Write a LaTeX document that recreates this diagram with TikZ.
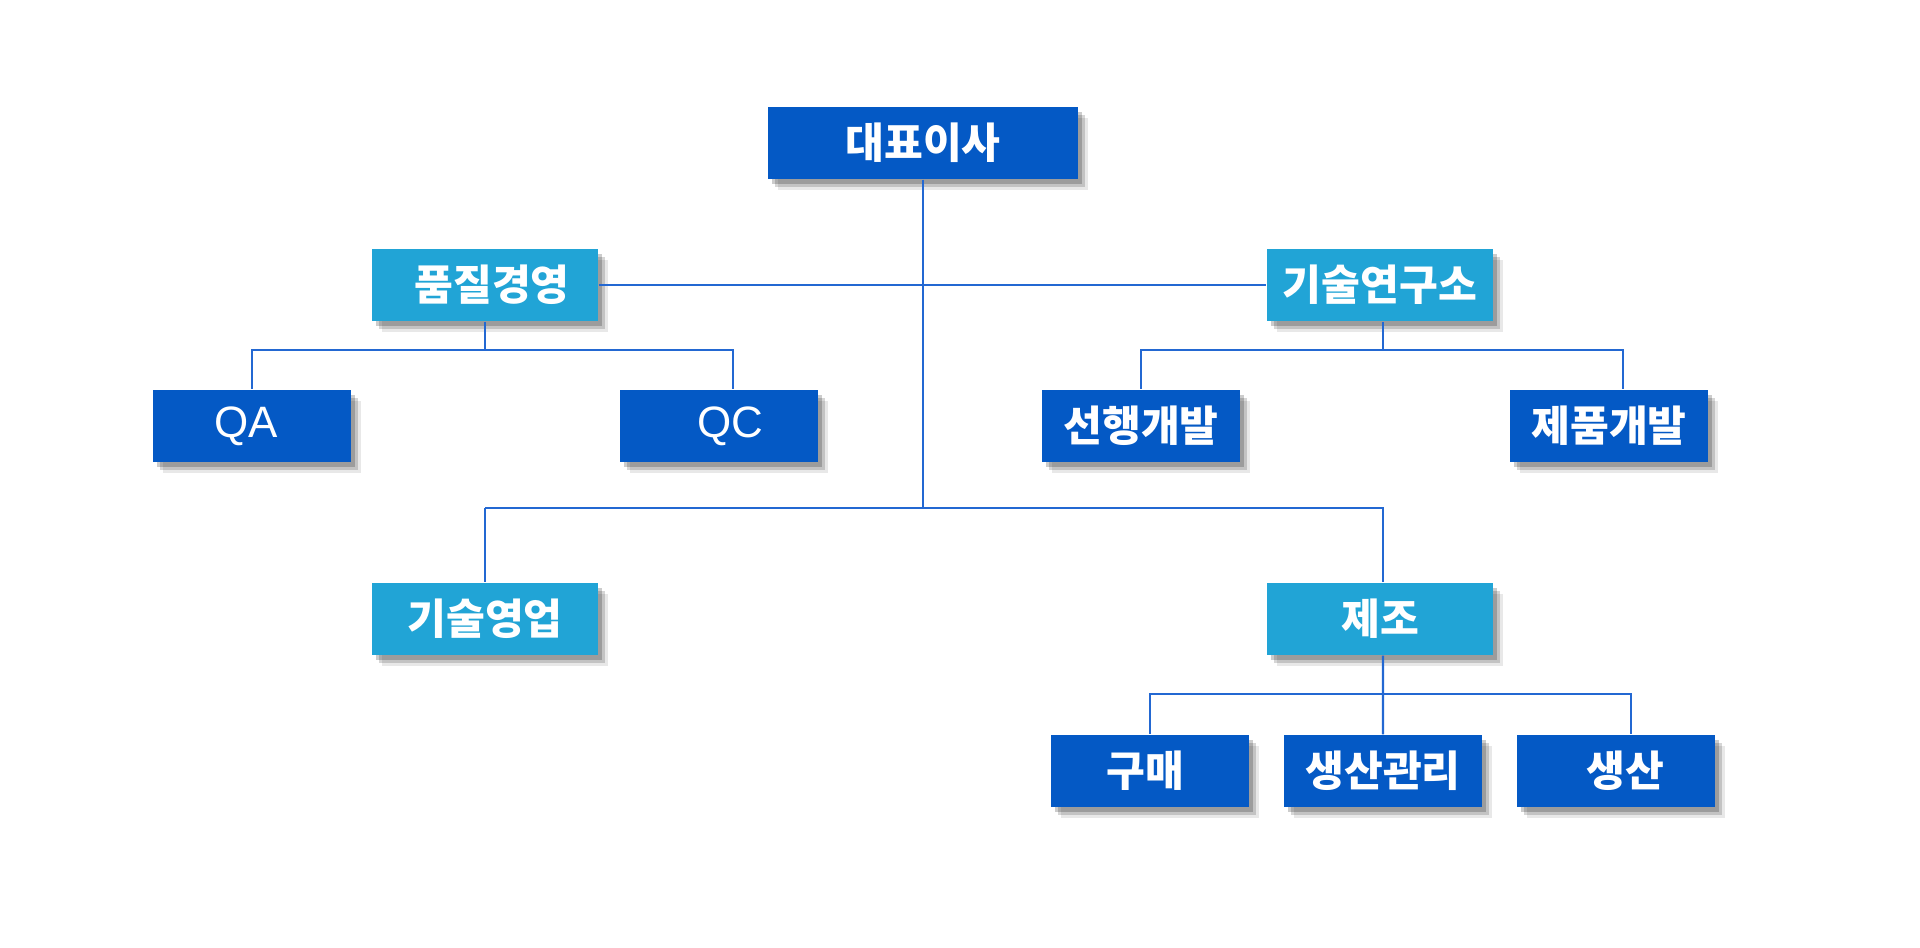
\documentclass[tikz,border=0pt]{standalone}
\usepackage{fontspec}
\usepackage{xcolor}
\usepackage{tikz}
\usetikzlibrary{shadows, positioning}
\newfontfamily\krfont{Noto Sans CJK KR}
\newfontfamily\lafont{Liberation Sans}
\definecolor{darkblue}{HTML}{0459C5}
\definecolor{lightblue}{HTML}{21A4D6}
\definecolor{linkblue}{HTML}{2368D2}

\begin{document}
\begin{tikzpicture}[
  x=0.01cm, y=-0.01cm,
  box/.style={rectangle, inner sep=0pt, minimum height=0.72cm, text=white,
    font=\krfont\bfseries\fontsize{12}{14}\selectfont,
    drop shadow={shadow xshift=0.04cm, shadow yshift=-0.05cm, fill=black, opacity=0.2},
    drop shadow={shadow xshift=0.07cm, shadow yshift=-0.08cm, fill=black, opacity=0.16},
    drop shadow={shadow xshift=0.10cm, shadow yshift=-0.11cm, fill=black, opacity=0.09}},
  dark_box/.style={box, fill=darkblue, minimum width=1.98cm},
  light_box/.style={box, fill=lightblue, minimum width=2.26cm},
  latin/.style={font=\lafont\fontsize{12.5}{14}\selectfont},
  line/.style={draw=linkblue, line width=0.6pt}
]
\useasboundingbox (0,0) rectangle (1920,948);

% Layer 1: CEO
\node[box, fill=darkblue, minimum width=3.10cm] (ceo) at (923, 143) {대표이사};

% Layer 2: Divisions
\node[light_box] (quality) at (485, 285) {\hspace*{0.14cm}품질경영};
\node[light_box] (lab) at (1380, 285) {기술연구소};

% Layer 3: Teams
\node[dark_box, latin] (qa) at (252, 426) {\hspace*{-0.12cm}QA};
\node[dark_box, latin] (qc) at (719, 426) {\hspace*{0.22cm}QC};
\node[dark_box] (adv) at (1141, 426) {선행개발};
\node[dark_box] (prod) at (1609, 426) {제품개발};

% Layer 4: Sales and Manufacturing
\node[light_box] (sales) at (485, 619) {기술영업};
\node[light_box] (mfg) at (1380, 619) {제조};

% Layer 5: Manufacturing teams
\node[dark_box] (buy) at (1150, 771) {\hspace*{-0.10cm}구매};
\node[dark_box] (plan) at (1383, 771) {생산관리};
\node[dark_box] (make) at (1616, 771) {\hspace*{0.18cm}생산};

% Connections
\draw[line] (quality.east) -- (lab.west);
\draw[line] (ceo.south) -- ([yshift=0.74cm]ceo.south |- sales.north);
\draw[line] ([yshift=0.74cm]sales.north) -| ([xshift=0.03cm]mfg.north);
\draw[line] ([yshift=0.74cm]sales.north) -- (sales.north);

\draw[line] (quality.south) -- ++(0,28) -| (qa.north);
\draw[line] (quality.south) ++(0,28) -| ([xshift=0.14cm]qc.north);

\draw[line] ([xshift=0.03cm]lab.south) -- ++(0,28) -| (adv.north);
\draw[line] ([xshift=0.03cm]lab.south) ++(0,28) -| ([xshift=0.14cm]prod.north);

\draw[line] ([xshift=0.03cm]mfg.south) -- (plan.north);
\draw[line] ([yshift=0.40cm]plan.north) -| (buy.north);
\draw[line] ([yshift=0.40cm]plan.north) -| ([xshift=0.15cm]make.north);

\end{tikzpicture}
\end{document}
